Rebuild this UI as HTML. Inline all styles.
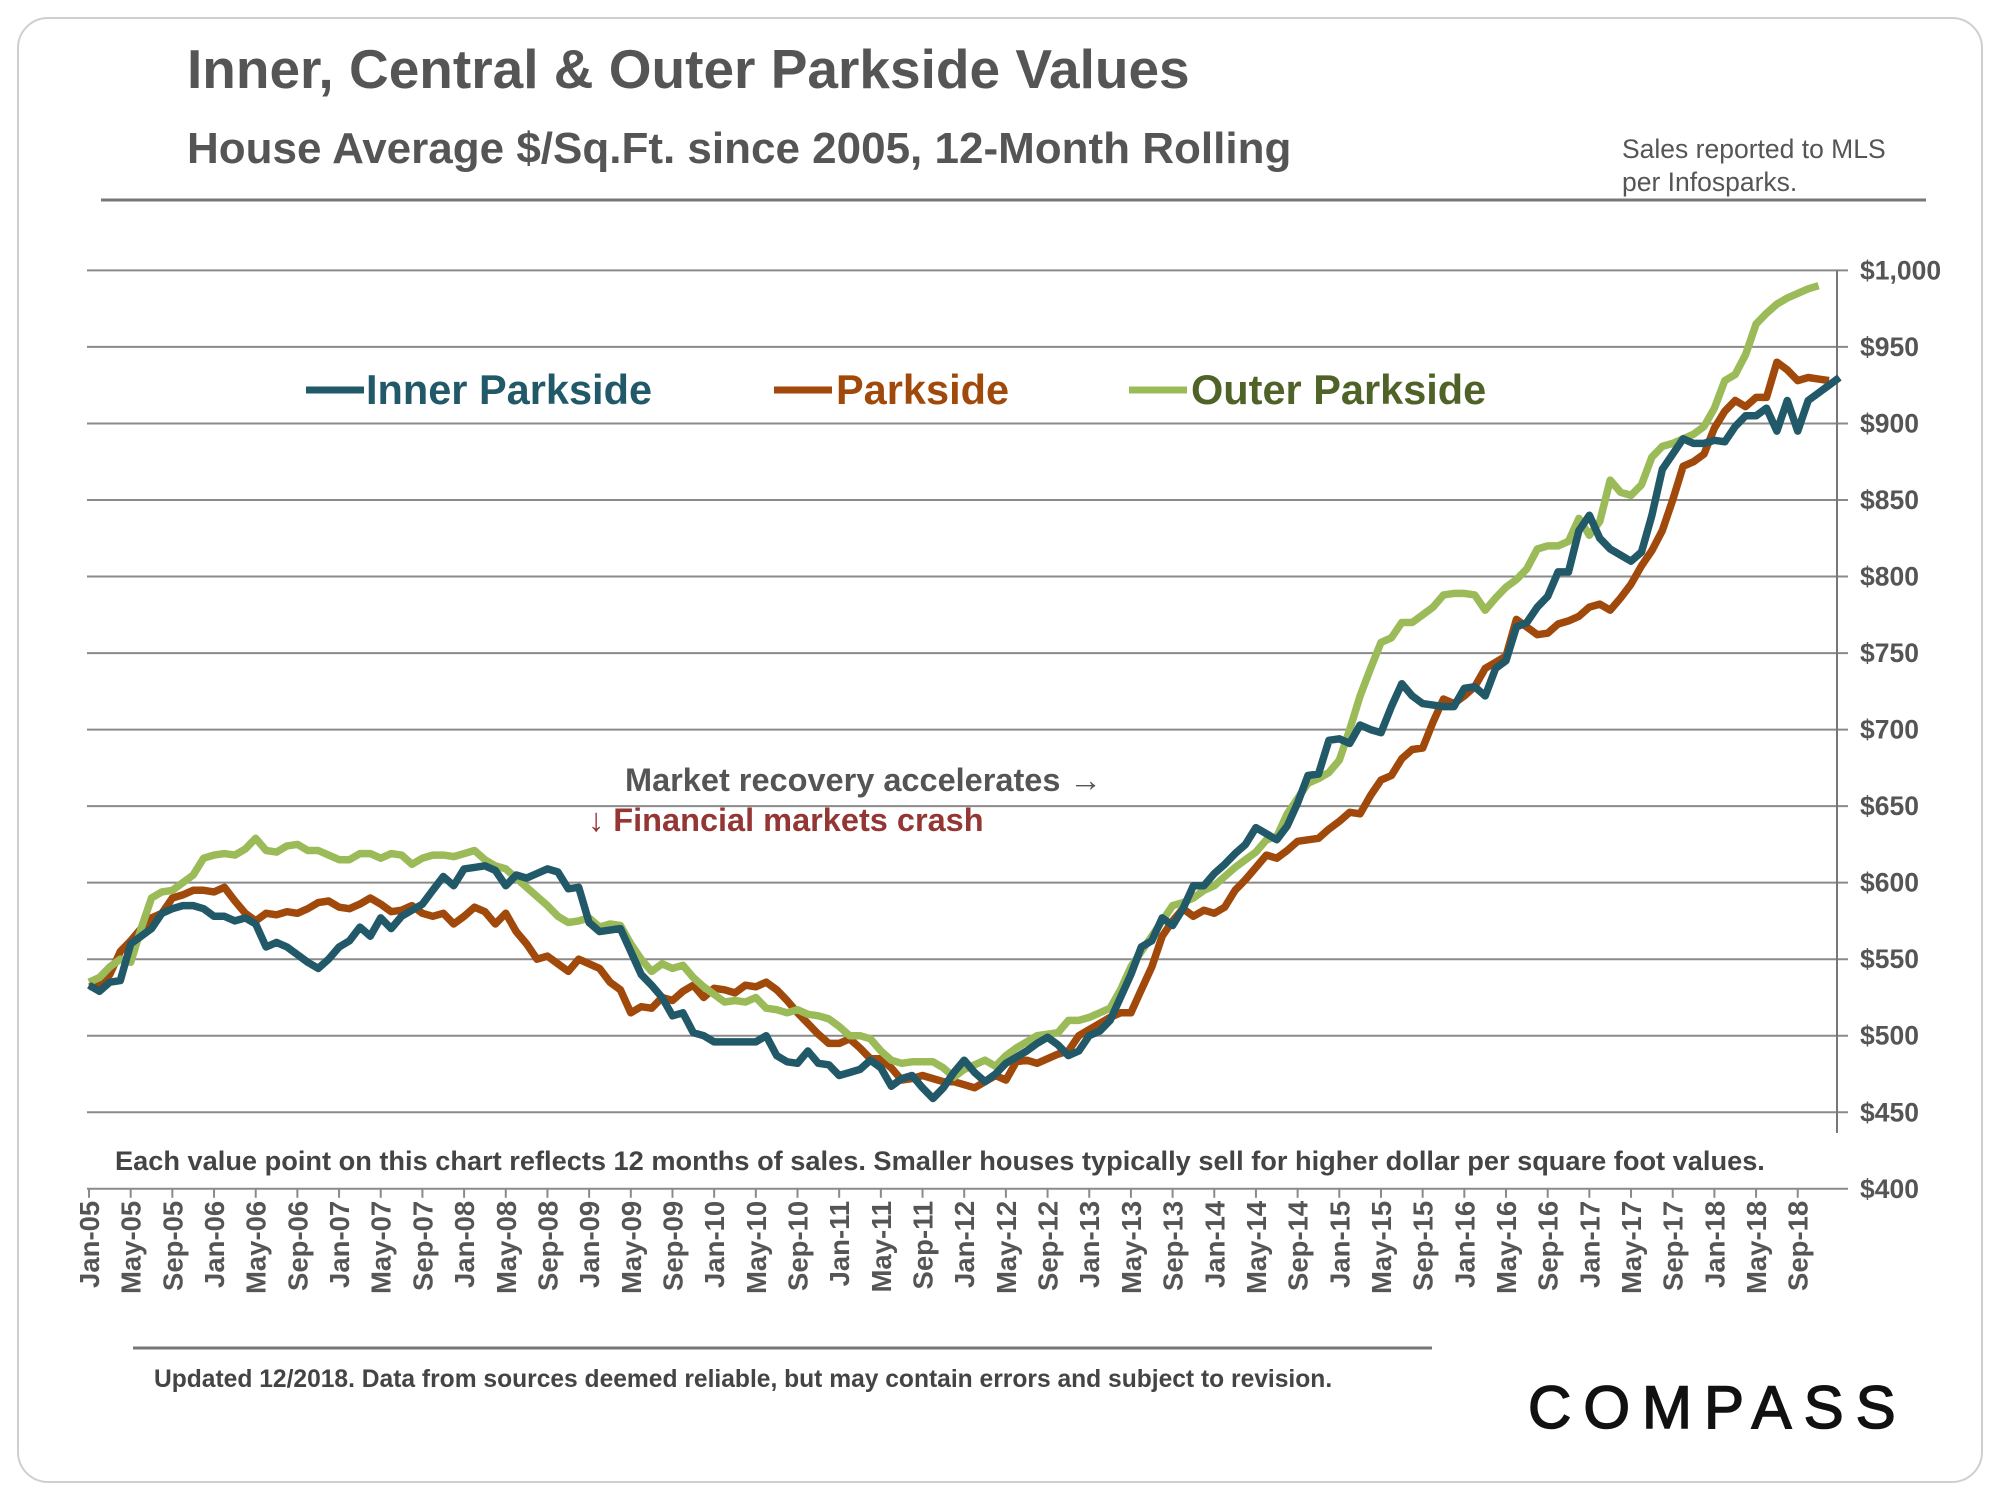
<!DOCTYPE html>
<html><head><meta charset="utf-8"><style>
html,body{margin:0;padding:0;background:#fff;}
svg{display:block;font-family:"Liberation Sans",Arial,sans-serif;}
</style></head><body>
<svg id="chart" width="2000" height="1500" viewBox="0 0 2000 1500" xmlns="http://www.w3.org/2000/svg">
<rect x="18" y="18" width="1964" height="1464" rx="30" fill="#fff" stroke="#cfcfcf" stroke-width="2"/>
<text x="187" y="88" font-size="55" font-weight="bold" fill="#555">Inner, Central &amp; Outer Parkside Values</text>
<text x="187" y="163" font-size="44" font-weight="bold" fill="#555">House Average $/Sq.Ft. since 2005, 12-Month Rolling</text>
<text x="1622" y="158" font-size="26.5" fill="#555">Sales reported to MLS</text>
<text x="1622" y="191" font-size="26.5" fill="#555">per Infosparks.</text>
<line x1="101" y1="200" x2="1926" y2="200" stroke="#777" stroke-width="3"/>
<g id="grid"></g>
<g id="xaxis"></g>
<g id="series"></g>
<g>
<g><line x1="306" y1="390" x2="364" y2="390" stroke="#215968" stroke-width="7"/><text x="366" y="404" font-size="41.5" font-weight="bold" fill="#215968">Inner Parkside</text></g>
<g><line x1="774" y1="390" x2="832" y2="390" stroke="#a0490b" stroke-width="7"/><text x="836" y="404" font-size="41.5" font-weight="bold" fill="#a0490b">Parkside</text></g>
<g><line x1="1129" y1="390" x2="1187" y2="390" stroke="#9bbb59" stroke-width="7"/><text x="1191" y="404" font-size="41.5" font-weight="bold" fill="#4f6228">Outer Parkside</text></g>
</g>
<text x="625" y="791" font-size="32.5" font-weight="bold" fill="#555">Market recovery accelerates →</text>
<text x="588" y="831" font-size="32.5" font-weight="bold" fill="#943634">↓ Financial markets crash</text>
<text x="115" y="1170" font-size="27.2" font-weight="bold" fill="#444">Each value point on this chart reflects 12 months of sales. Smaller houses typically sell for higher dollar per square foot values.</text>
<line x1="133" y1="1348" x2="1432" y2="1348" stroke="#777" stroke-width="3"/>
<text x="154" y="1387" font-size="24.6" font-weight="bold" fill="#444">Updated 12/2018. Data from sources deemed reliable, but may contain errors and subject to revision.</text>
<text x="1528" y="1428" font-size="60" fill="#111" stroke="#111" stroke-width="1.5" letter-spacing="12">COMPASS</text>
</svg>
<script>
const xLabelsMonths = ["Jan","May","Sep"];
const yTicks = [400,450,500,550,600,650,700,750,800,850,900,950,1000];
const innerParkside = [533,529,535,536,560,565,570,580,583,585,585,583,578,578,575,577,573,558,561,558,553,548,544,550,558,562,571,565,577,570,578,582,586,595,604,598,609,610,611,608,598,605,603,606,609,607,596,597,574,568,569,570,555,540,533,525,513,515,502,500,496,496,496,496,496,500,487,483,482,490,482,481,474,476,478,484,479,467,472,474,466,459,466,476,484,476,470,475,482,486,490,495,499,494,487,490,500,503,510,525,540,558,562,577,572,583,598,598,606,612,619,625,636,632,628,637,652,670,671,693,694,691,703,700,698,715,730,722,717,716,715,715,727,728,722,740,745,767,770,780,787,803,803,830,840,825,818,814,810,816,840,870,880,890,887,887,889,888,898,905,905,910,895,915,895,915,920,925,930];
const parkside = [532,533,540,555,562,570,577,580,590,592,595,595,594,597,588,580,575,580,579,581,580,583,587,588,584,583,586,590,586,581,582,585,580,578,580,573,578,584,581,573,580,568,560,550,552,547,542,550,547,544,535,530,515,519,518,525,523,529,533,525,531,530,528,533,532,535,530,523,515,508,501,495,495,498,492,485,485,479,471,472,474,472,470,470,468,466,470,474,471,483,484,482,485,488,490,500,504,508,512,515,515,530,545,565,575,583,578,582,580,584,595,602,610,618,616,621,627,628,629,635,640,646,645,657,667,670,681,687,688,705,720,717,722,728,740,744,748,772,767,762,763,769,771,774,780,782,778,786,795,807,817,830,850,872,875,880,897,908,915,911,917,917,940,935,928,930,929,928];
const outerParkside = [535,538,545,550,548,570,590,594,595,600,605,616,618,619,618,622,629,621,620,624,625,621,621,618,615,615,619,619,616,619,618,612,616,618,618,617,619,621,615,611,609,603,597,591,585,578,574,575,577,571,573,572,560,550,542,547,544,546,538,532,527,522,523,522,525,518,517,515,517,514,513,511,506,500,500,498,490,484,482,483,483,483,479,473,478,481,484,480,487,492,496,500,501,502,510,510,512,515,518,530,545,555,565,575,585,587,590,595,598,604,610,615,620,628,630,645,655,665,668,672,680,700,722,740,757,760,770,770,775,780,788,789,789,788,778,786,793,798,805,818,820,820,823,838,827,836,863,855,853,860,878,885,887,890,893,898,910,928,932,945,965,972,978,982,985,988,990];
const NS="http://www.w3.org/2000/svg";
const NMONTHS=168;
const X0=89, XEND=1829, YTOP=270.4, YBOT=1188.8;
function xScale(i){return X0+(XEND-X0)*i/(NMONTHS-1);}
function yScale(v){return YTOP+(1000-v)*(YBOT-YTOP)/600;}
function mk(tag,attrs,parent){const e=document.createElementNS(NS,tag);for(const k in attrs)e.setAttribute(k,attrs[k]);parent.appendChild(e);return e;}
const grid=document.getElementById('grid');
yTicks.forEach(v=>{
  const y=yScale(v);
  if(v>=450){
    const l=mk('line',{x1:87,y1:y,x2:1848,y2:y,stroke:'#8a8a8a','stroke-width':2},grid);
    
    
  }
  const t=mk('text',{x:1860,y:y+9,'font-size':26.5,'font-weight':'bold',fill:'#555'},grid);
  t.textContent='$'+v.toLocaleString('en-US');
  
  
});
const va=mk('line',{x1:1837,y1:YTOP,x2:1837,y2:1133,stroke:'#777','stroke-width':2},grid);


const xa=document.getElementById('xaxis');
const xl=mk('line',{x1:87,y1:YBOT,x2:1848,y2:YBOT,stroke:'#8a8a8a','stroke-width':2},xa);


for(let i=0;i<NMONTHS;i+=4){
  const x=xScale(i);
  const tk=mk('line',{x1:x,y1:YBOT,x2:x,y2:YBOT+9,stroke:'#8a8a8a','stroke-width':2},xa);
  
  
  const yr=String(5+Math.floor(i/12)).padStart(2,'0');
  const lab=xLabelsMonths[(i%12)/4]+'-'+yr;
  const t=mk('text',{x:0,y:0,'font-size':27.5,'font-weight':'bold',fill:'#555','text-anchor':'end',transform:`translate(${x+10},${YBOT+12}) rotate(-90)`},xa);
  t.textContent=lab;
  
  
}
const ser=document.getElementById('series');
[[parkside,'#a0490b','parkside-line'],[outerParkside,'#9bbb59','outer-parkside-line'],[innerParkside,'#215968','inner-parkside-line']].forEach(([d,c,n])=>{
  const pts=d.map((v,i)=>xScale(i).toFixed(1)+','+yScale(v).toFixed(1)).join(' ');
  const p=mk('polyline',{points:pts,fill:'none',stroke:c,'stroke-width':7.5,'stroke-linejoin':'round'},ser);
  
  
});
</script>
</body></html>
